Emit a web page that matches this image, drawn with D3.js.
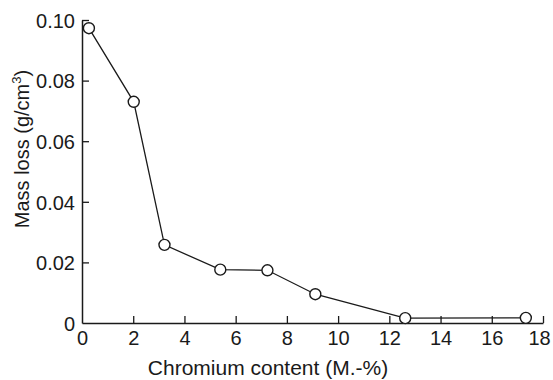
<!DOCTYPE html>
<html><head><meta charset="utf-8">
<script src="https://cdn.jsdelivr.net/npm/d3@7"></script>
<style>
html,body{margin:0;padding:0;background:#fff;}
svg{display:block;}
text{font-family:"Liberation Sans",Arial,Helvetica,sans-serif;fill:#1a1a1a;}
</style></head>
<body>
<svg id="chart" width="553" height="380"></svg>
<script>
const chromium = [0.27, 2.02, 3.22, 5.40, 7.24, 9.11, 12.62, 17.33];
const massLoss = [0.0973, 0.0730, 0.0258, 0.0176, 0.0174, 0.0095, 0.0016, 0.0017];
const xTicks = [0, 2, 4, 6, 8, 10, 12, 14, 16, 18];
const yTicks = [0, 0.02, 0.04, 0.06, 0.08, 0.10];
const xTitle = "Chromium content (M.-%)";

const svg = d3.select("#chart");
const x = d3.scaleLinear().domain([0, 18]).range([82, 543]);
const y = d3.scaleLinear().domain([0, 0.10]).range([323, 20]);
const ink = "#1a1a1a";

const xAxis = svg.append("g").attr("transform", `translate(0,${y(0)})`)
  .call(d3.axisBottom(x).tickValues(xTicks).tickSizeInner(-7).tickSizeOuter(0).tickPadding(8).tickFormat(d3.format("d")));
const yAxis = svg.append("g").attr("transform", `translate(${x(0)},0)`)
  .call(d3.axisLeft(y).tickValues(yTicks).tickSizeInner(-7).tickSizeOuter(0).tickPadding(7)
    .tickFormat(d => d === 0 ? "0" : d3.format(".2f")(d)));

[xAxis, yAxis].forEach(g => {
  g.select(".domain").attr("stroke", ink).attr("stroke-width", 1.5);
  g.selectAll(".tick line").attr("stroke", ink).attr("stroke-width", 1.3);
  g.selectAll(".tick text").attr("font-size", 20).attr("fill", ink)
    .style("font-family", "'Liberation Sans', Arial, sans-serif");
});
// hide corner ticks
xAxis.selectAll(".tick").filter(d => d === 0).select("line").remove();
yAxis.selectAll(".tick").filter(d => d === 0).select("line").remove();
yAxis.selectAll(".tick text").attr("dy", "0.36em");
xAxis.selectAll(".tick").filter(d => d === 18).select("text").attr("dx", -4);

const pts = chromium.map((c, i) => [c, massLoss[i]]);
svg.append("path").datum(pts)
  .attr("fill", "none").attr("stroke", ink).attr("stroke-width", 1.3)
  .attr("d", d3.line().x(d => x(d[0])).y(d => y(d[1])));
svg.append("g").selectAll("circle").data(pts).join("circle")
  .attr("cx", d => x(d[0])).attr("cy", d => y(d[1])).attr("r", 5.5)
  .attr("fill", "#fff").attr("stroke", ink).attr("stroke-width", 1.4);

svg.append("text").attr("x", 268).attr("y", 375).attr("text-anchor", "middle")
  .attr("font-size", 21).text(xTitle);

const yl = svg.append("text").attr("transform", "translate(29,149) rotate(-90)")
  .attr("text-anchor", "middle").attr("font-size", 20);
yl.append("tspan").text("Mass loss (g/cm");
yl.append("tspan").attr("font-size", 13).attr("dy", -8).text("3");
yl.append("tspan").attr("dy", 8).text(")");
</script>
</body></html>
